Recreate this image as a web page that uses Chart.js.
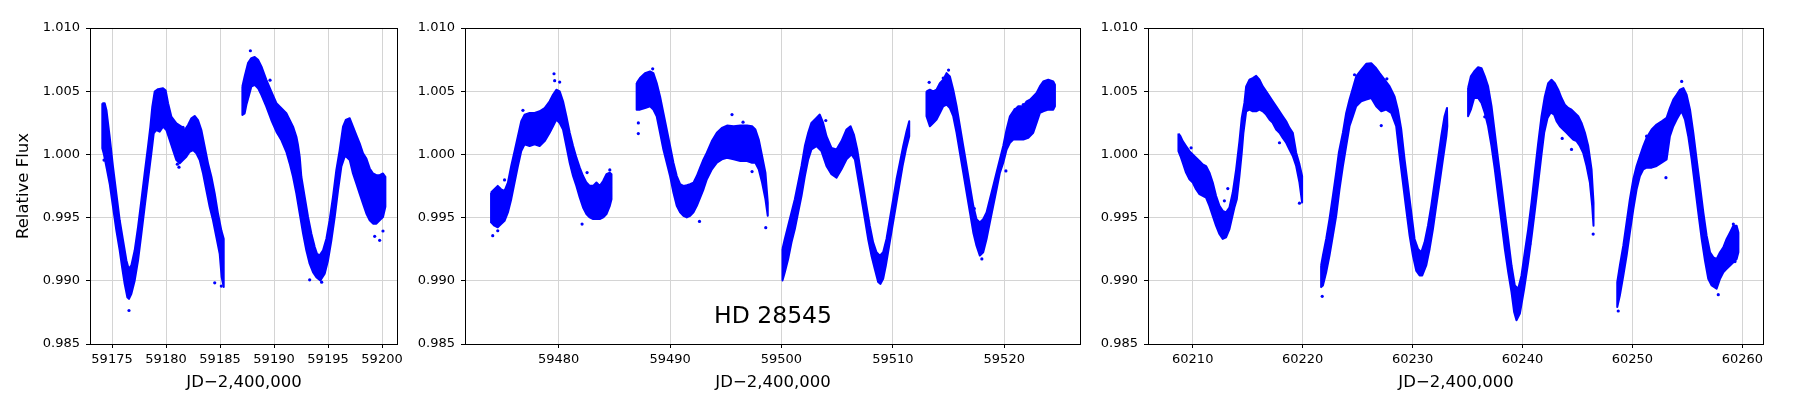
<!DOCTYPE html>
<html>
<head>
<meta charset="utf-8">
<script src="https://cdn.jsdelivr.net/npm/chart.js@4.4.0/dist/chart.umd.min.js"></script>
<style>
  html, body { margin: 0; padding: 0; background: #fff; }
  body { width: 1800px; height: 400px; position: relative; overflow: hidden; }
  canvas { position: absolute; top: 0; }
</style>
</head>
<body>
<canvas id="panel1"></canvas>
<canvas id="panel2"></canvas>
<canvas id="panel3"></canvas>
<script>
// Light curve: each observing stretch is kept as the upper and
// lower edge of the dense point cloud [JD-2400000, relative flux], plus stray points.

const fluxTicks = [0.985, 0.990, 0.995, 1.000, 1.005, 1.010];
const p1Ticks = [59175, 59180, 59185, 59190, 59195, 59200];
const p2Ticks = [59480, 59490, 59500, 59510, 59520];
const p3Ticks = [60210, 60220, 60230, 60240, 60250, 60260];

const xTitle = 'JD\u22122,400,000';
const yTitle = 'Relative Flux';
const starName = 'HD 28545';

// ---- panel 1 ----
const p1aUpper = [[59174.10,1.00405],[59174.32,1.00405],[59174.48,1.00352],[59174.78,1.00140],[59175.09,0.99902],[59175.40,0.99690],[59175.71,0.99479],[59176.02,0.99320],[59176.33,0.99161],[59176.54,0.99095],[59176.79,0.99122],[59177.10,0.99241],[59177.41,0.99426],[59177.72,0.99638],[59178.02,0.99849],[59178.33,1.00061],[59178.55,1.00220],[59178.73,1.00378],[59178.95,1.00497],[59179.26,1.00516],[59179.72,1.00524],[59179.97,1.00505],[59180.19,1.00405],[59180.49,1.00299],[59180.96,1.00246],[59181.42,1.00220],[59181.73,1.00193],[59182.04,1.00233],[59182.35,1.00286],[59182.65,1.00304],[59182.96,1.00272],[59183.27,1.00193],[59183.58,1.00061],[59183.89,0.99929],[59184.20,0.99823],[59184.51,0.99690],[59184.81,0.99532],[59185.12,0.99399],[59185.34,0.99333]];
const p1aLower = [[59174.10,1.00048],[59174.23,1.00008],[59174.48,0.99902],[59174.78,0.99770],[59175.09,0.99585],[59175.40,0.99399],[59175.71,0.99241],[59175.93,0.99108],[59176.17,0.98976],[59176.42,0.98870],[59176.57,0.98857],[59176.79,0.98897],[59177.10,0.99003],[59177.41,0.99161],[59177.72,0.99373],[59178.02,0.99585],[59178.33,0.99796],[59178.64,1.00008],[59178.86,1.00167],[59179.10,1.00193],[59179.41,1.00180],[59179.72,1.00220],[59180.03,1.00193],[59180.34,1.00114],[59180.65,1.00034],[59180.96,0.99955],[59181.27,0.99929],[59181.57,0.99955],[59181.88,0.99981],[59182.19,1.00021],[59182.50,1.00034],[59182.81,1.00008],[59183.12,0.99955],[59183.43,0.99849],[59183.73,0.99717],[59184.04,0.99585],[59184.35,0.99479],[59184.66,0.99347],[59184.97,0.99214],[59185.15,0.99029],[59185.34,0.98950]];
const p1bUpper = [[59187.07,1.00537],[59187.28,1.00616],[59187.59,1.00722],[59187.90,1.00762],[59188.21,1.00770],[59188.52,1.00749],[59188.83,1.00696],[59189.29,1.00590],[59189.75,1.00497],[59190.22,1.00405],[59190.68,1.00365],[59191.14,1.00325],[59191.45,1.00272],[59191.76,1.00220],[59192.07,1.00140],[59192.22,1.00074],[59192.38,0.99981],[59192.53,0.99823],[59192.84,0.99664],[59193.15,0.99505],[59193.46,0.99373],[59193.77,0.99267],[59193.98,0.99214],[59194.23,0.99201],[59194.54,0.99241],[59194.85,0.99333],[59195.15,0.99479],[59195.46,0.99664],[59195.77,0.99876],[59196.08,1.00034],[59196.39,1.00220],[59196.64,1.00272],[59197.01,1.00286],[59197.31,1.00220],[59197.62,1.00153],[59197.93,1.00087],[59198.24,1.00008],[59198.55,0.99968],[59198.86,0.99889],[59199.17,0.99849],[59199.48,0.99836],[59199.78,0.99836],[59200.09,0.99849],[59200.31,0.99823]];
const p1bLower = [[59187.07,1.00312],[59187.28,1.00325],[59187.44,1.00392],[59187.69,1.00471],[59187.90,1.00537],[59188.21,1.00550],[59188.52,1.00524],[59188.83,1.00471],[59189.29,1.00378],[59189.75,1.00272],[59190.22,1.00180],[59190.68,1.00114],[59191.14,1.00021],[59191.45,0.99929],[59191.76,0.99823],[59192.07,0.99690],[59192.38,0.99532],[59192.69,0.99373],[59192.99,0.99241],[59193.30,0.99135],[59193.61,0.99069],[59193.92,0.99029],[59194.29,0.99003],[59194.69,0.99056],[59195.00,0.99161],[59195.31,0.99320],[59195.62,0.99505],[59195.93,0.99717],[59196.23,0.99902],[59196.54,0.99981],[59196.70,0.99981],[59197.01,0.99955],[59197.31,0.99849],[59197.62,0.99770],[59197.93,0.99690],[59198.24,0.99611],[59198.55,0.99532],[59198.86,0.99479],[59199.17,0.99452],[59199.48,0.99452],[59199.78,0.99479],[59200.09,0.99505],[59200.31,0.99585]];
const p1Outliers = [[59174.26,0.99955],[59176.57,0.98765],[59187.81,1.00820],[59189.63,1.00587],[59181.05,0.99923],[59181.20,0.99899],[59184.51,0.98984],[59185.12,0.98958],[59193.30,0.99008],[59194.41,0.98989],[59199.78,0.99320],[59199.32,0.99352],[59200.09,0.99394],[59182.59,1.00280],[59181.57,1.00214]];

// ---- panel 2 ----
const p2aUpper = [[59473.93,0.99698],[59474.23,0.99724],[59474.53,0.99751],[59474.83,0.99724],[59475.14,0.99711],[59475.44,0.99777],[59475.74,0.99908],[59476.04,1.00026],[59476.34,1.00144],[59476.64,1.00262],[59476.94,1.00315],[59477.39,1.00328],[59477.84,1.00328],[59478.29,1.00341],[59478.74,1.00367],[59479.19,1.00420],[59479.49,1.00472],[59479.79,1.00512],[59480.09,1.00499],[59480.39,1.00420],[59480.69,1.00302],[59480.99,1.00171],[59481.29,1.00066],[59481.59,0.99974],[59481.89,0.99895],[59482.19,0.99829],[59482.49,0.99777],[59482.79,0.99751],[59483.09,0.99751],[59483.39,0.99777],[59483.69,0.99751],[59483.99,0.99790],[59484.29,0.99843],[59484.59,0.99856],[59484.74,0.99843]];
const p2aLower = [[59473.93,0.99462],[59474.23,0.99436],[59474.53,0.99423],[59474.83,0.99449],[59475.14,0.99475],[59475.44,0.99541],[59475.74,0.99646],[59476.04,0.99777],[59476.34,0.99908],[59476.64,1.00026],[59476.94,1.00079],[59477.39,1.00066],[59477.84,1.00079],[59478.29,1.00066],[59478.74,1.00105],[59479.19,1.00171],[59479.49,1.00223],[59479.79,1.00276],[59480.09,1.00249],[59480.39,1.00197],[59480.69,1.00066],[59480.99,0.99934],[59481.29,0.99829],[59481.59,0.99751],[59481.89,0.99659],[59482.19,0.99580],[59482.49,0.99528],[59482.79,0.99501],[59483.09,0.99488],[59483.39,0.99488],[59483.69,0.99488],[59483.99,0.99501],[59484.29,0.99528],[59484.59,0.99593],[59484.74,0.99646]];
const p2bUpper = [[59487.00,1.00564],[59487.30,1.00604],[59487.75,1.00643],[59488.20,1.00656],[59488.50,1.00643],[59488.80,1.00564],[59489.10,1.00459],[59489.40,1.00328],[59489.70,1.00197],[59490.00,1.00066],[59490.30,0.99934],[59490.60,0.99829],[59490.90,0.99764],[59491.20,0.99751],[59491.50,0.99756],[59491.80,0.99764],[59492.10,0.99777],[59492.40,0.99829],[59492.70,0.99895],[59493.00,0.99961],[59493.30,1.00013],[59493.75,1.00105],[59494.20,1.00171],[59494.65,1.00210],[59495.11,1.00228],[59495.71,1.00223],[59496.31,1.00228],[59496.91,1.00228],[59497.36,1.00223],[59497.66,1.00197],[59497.96,1.00118],[59498.26,0.99987],[59498.56,0.99856],[59498.77,0.99619]];
const p2bLower = [[59487.00,1.00354],[59487.30,1.00354],[59487.75,1.00367],[59488.20,1.00381],[59488.50,1.00354],[59488.80,1.00302],[59489.10,1.00171],[59489.40,1.00039],[59489.70,0.99934],[59490.00,0.99829],[59490.30,0.99698],[59490.60,0.99593],[59490.90,0.99541],[59491.20,0.99514],[59491.50,0.99501],[59491.80,0.99514],[59492.10,0.99541],[59492.40,0.99593],[59492.70,0.99659],[59493.00,0.99724],[59493.30,0.99803],[59493.75,0.99882],[59494.20,0.99934],[59494.65,0.99961],[59495.11,0.99974],[59495.71,0.99961],[59496.31,0.99948],[59496.91,0.99948],[59497.36,0.99934],[59497.66,0.99934],[59497.96,0.99882],[59498.26,0.99777],[59498.56,0.99646],[59498.77,0.99514]];
const p2cUpper = [[59500.09,0.99252],[59500.30,0.99331],[59500.60,0.99436],[59500.90,0.99541],[59501.20,0.99646],[59501.50,0.99777],[59501.80,0.99908],[59502.10,1.00066],[59502.40,1.00171],[59502.69,1.00249],[59503.14,1.00289],[59503.44,1.00315],[59503.74,1.00249],[59504.04,1.00144],[59504.49,1.00052],[59504.94,1.00039],[59505.39,1.00105],[59505.84,1.00197],[59506.20,1.00223],[59506.50,1.00157],[59506.80,1.00039],[59507.04,0.99908],[59507.34,0.99751],[59507.63,0.99593],[59507.93,0.99436],[59508.23,0.99304],[59508.53,0.99226],[59508.83,0.99199],[59509.13,0.99226],[59509.43,0.99331],[59509.73,0.99488],[59510.03,0.99646],[59510.33,0.99803],[59510.63,0.99934],[59510.93,1.00066],[59511.23,1.00184],[59511.47,1.00262]];
const p2cLower = [[59500.09,0.99003],[59500.30,0.99068],[59500.60,0.99173],[59500.90,0.99304],[59501.20,0.99409],[59501.50,0.99541],[59501.80,0.99672],[59502.10,0.99829],[59502.40,0.99961],[59502.69,1.00039],[59503.14,1.00066],[59503.59,1.00026],[59504.04,0.99908],[59504.49,0.99843],[59504.94,0.99816],[59505.39,0.99882],[59505.84,0.99961],[59506.29,1.00000],[59506.59,0.99961],[59506.89,0.99803],[59507.19,0.99646],[59507.49,0.99488],[59507.78,0.99331],[59508.08,0.99199],[59508.38,0.99094],[59508.68,0.98990],[59508.89,0.98976],[59509.13,0.99016],[59509.37,0.99121],[59509.67,0.99278],[59509.97,0.99436],[59510.27,0.99593],[59510.57,0.99751],[59510.87,0.99908],[59511.17,1.00039],[59511.47,1.00144]];
const p2dUpper = [[59513.02,1.00499],[59513.32,1.00512],[59513.62,1.00499],[59513.92,1.00512],[59514.22,1.00564],[59514.52,1.00591],[59514.82,1.00643],[59515.12,1.00617],[59515.42,1.00512],[59515.72,1.00381],[59516.02,1.00223],[59516.32,1.00066],[59516.62,0.99908],[59516.92,0.99751],[59517.22,0.99593],[59517.51,0.99488],[59517.81,0.99462],[59518.11,0.99488],[59518.41,0.99541],[59518.71,0.99646],[59519.01,0.99751],[59519.31,0.99856],[59519.61,0.99961],[59519.91,1.00066],[59520.21,1.00197],[59520.51,1.00302],[59520.81,1.00341],[59521.26,1.00381],[59521.71,1.00381],[59522.01,1.00420],[59522.31,1.00433],[59522.60,1.00459],[59522.90,1.00486],[59523.20,1.00538],[59523.50,1.00577],[59523.95,1.00591],[59524.40,1.00577],[59524.55,1.00551]];
const p2dLower = [[59513.02,1.00302],[59513.32,1.00223],[59513.62,1.00249],[59513.92,1.00276],[59514.22,1.00328],[59514.52,1.00381],[59514.82,1.00394],[59515.12,1.00367],[59515.42,1.00302],[59515.72,1.00171],[59516.02,1.00013],[59516.32,0.99856],[59516.62,0.99698],[59516.92,0.99541],[59517.22,0.99383],[59517.51,0.99278],[59517.81,0.99199],[59518.11,0.99226],[59518.41,0.99331],[59518.71,0.99462],[59519.01,0.99593],[59519.31,0.99724],[59519.61,0.99856],[59519.91,0.99934],[59520.21,1.00039],[59520.51,1.00092],[59520.81,1.00118],[59521.26,1.00118],[59521.71,1.00118],[59522.16,1.00131],[59522.60,1.00171],[59522.90,1.00249],[59523.20,1.00328],[59523.50,1.00341],[59523.95,1.00354],[59524.40,1.00354],[59524.55,1.00381]];
const p2Outliers = [[59479.58,1.00638],[59480.09,1.00572],[59479.64,1.00583],[59476.79,1.00349],[59475.14,0.99798],[59474.08,0.99357],[59474.53,0.99396],[59482.10,0.99449],[59482.55,0.99856],[59484.59,0.99877],[59487.15,1.00165],[59487.15,1.00249],[59488.44,1.00677],[59495.56,1.00315],[59496.55,1.00255],[59497.36,0.99864],[59498.59,0.99420],[59492.64,0.99470],[59515.00,1.00667],[59514.52,1.00604],[59513.26,1.00570],[59503.98,1.00268],[59517.31,0.99572],[59517.99,0.99173],[59520.96,1.00354],[59521.71,1.00394],[59520.15,0.99869]];

// ---- panel 3 ----
const p3aUpper = [[60208.70,1.00165],[60208.88,1.00144],[60209.09,1.00105],[60209.39,1.00066],[60209.70,1.00026],[60210.00,1.00000],[60210.30,0.99974],[60210.61,0.99948],[60210.91,0.99921],[60211.21,0.99908],[60211.52,0.99856],[60211.82,0.99777],[60212.12,0.99672],[60212.43,0.99593],[60212.73,0.99554],[60213.03,0.99541],[60213.34,0.99580],[60213.64,0.99698],[60213.95,0.99882],[60214.25,1.00105],[60214.46,1.00289],[60214.70,1.00407],[60214.86,1.00538],[60215.16,1.00591],[60215.46,1.00604],[60215.77,1.00622],[60216.07,1.00591],[60216.37,1.00538],[60216.68,1.00499],[60216.98,1.00459],[60217.28,1.00420],[60217.59,1.00381],[60217.89,1.00341],[60218.19,1.00302],[60218.50,1.00262],[60218.80,1.00210],[60219.10,1.00171],[60219.41,1.00013],[60219.71,0.99921],[60219.95,0.99829]];
const p3aLower = [[60208.70,1.00026],[60208.88,0.99987],[60209.09,0.99934],[60209.39,0.99856],[60209.70,0.99803],[60210.00,0.99777],[60210.30,0.99724],[60210.61,0.99685],[60210.91,0.99672],[60211.21,0.99659],[60211.52,0.99593],[60211.82,0.99514],[60212.12,0.99436],[60212.43,0.99370],[60212.73,0.99331],[60213.03,0.99344],[60213.34,0.99409],[60213.58,0.99501],[60213.79,0.99580],[60214.01,0.99646],[60214.25,0.99829],[60214.46,1.00013],[60214.61,1.00171],[60214.86,1.00341],[60215.16,1.00354],[60215.46,1.00341],[60215.77,1.00341],[60216.07,1.00354],[60216.37,1.00341],[60216.68,1.00315],[60216.98,1.00276],[60217.28,1.00249],[60217.59,1.00197],[60217.89,1.00171],[60218.19,1.00131],[60218.50,1.00092],[60218.80,1.00039],[60219.10,0.99987],[60219.41,0.99908],[60219.71,0.99777],[60219.95,0.99619]];
const p3bUpper = [[60221.68,0.99121],[60221.84,0.99199],[60222.14,0.99331],[60222.44,0.99488],[60222.75,0.99672],[60223.05,0.99856],[60223.29,1.00013],[60223.66,1.00171],[60223.96,1.00328],[60224.26,1.00433],[60224.57,1.00525],[60224.87,1.00617],[60225.33,1.00669],[60225.78,1.00717],[60226.24,1.00722],[60226.69,1.00682],[60227.00,1.00643],[60227.45,1.00591],[60227.91,1.00538],[60228.36,1.00459],[60228.66,1.00354],[60228.97,1.00197],[60229.27,0.99961],[60229.58,0.99751],[60229.88,0.99541],[60230.18,0.99331],[60230.49,0.99252],[60230.79,0.99226],[60231.09,0.99304],[60231.40,0.99436],[60231.70,0.99593],[60232.00,0.99777],[60232.31,0.99961],[60232.61,1.00144],[60232.91,1.00302],[60233.13,1.00367]];
const p3bLower = [[60221.68,0.98950],[60221.84,0.98963],[60222.14,0.99068],[60222.44,0.99199],[60222.75,0.99357],[60223.05,0.99514],[60223.35,0.99724],[60223.66,0.99908],[60223.96,1.00066],[60224.26,1.00223],[60224.57,1.00302],[60224.87,1.00381],[60225.33,1.00420],[60225.78,1.00433],[60226.24,1.00446],[60226.69,1.00381],[60227.15,1.00341],[60227.60,1.00354],[60228.06,1.00328],[60228.51,1.00223],[60228.82,0.99987],[60229.12,0.99777],[60229.42,0.99567],[60229.73,0.99357],[60230.03,0.99199],[60230.33,0.99081],[60230.64,0.99042],[60230.88,0.99042],[60231.24,0.99121],[60231.55,0.99252],[60231.85,0.99409],[60232.15,0.99593],[60232.46,0.99777],[60232.76,0.99961],[60233.07,1.00144],[60233.16,1.00223]];
const p3cUpper = [[60235.05,1.00525],[60235.30,1.00617],[60235.60,1.00656],[60235.96,1.00690],[60236.27,1.00682],[60236.57,1.00617],[60236.87,1.00538],[60237.18,1.00381],[60237.48,1.00171],[60237.78,0.99961],[60238.09,0.99751],[60238.39,0.99541],[60238.70,0.99331],[60239.00,0.99121],[60239.30,0.98963],[60239.61,0.98937],[60239.91,0.99042],[60240.21,0.99226],[60240.52,0.99409],[60240.82,0.99619],[60241.12,0.99856],[60241.43,1.00092],[60241.73,1.00302],[60242.03,1.00459],[60242.34,1.00564],[60242.64,1.00591],[60242.94,1.00564],[60243.25,1.00512],[60243.55,1.00446],[60243.85,1.00394],[60244.16,1.00367],[60244.46,1.00354],[60244.76,1.00328],[60245.07,1.00302],[60245.37,1.00249],[60245.68,1.00171],[60245.98,1.00066],[60246.28,0.99882],[60246.46,0.99619]];
const p3cLower = [[60235.05,1.00302],[60235.30,1.00354],[60235.60,1.00446],[60235.96,1.00446],[60236.27,1.00407],[60236.57,1.00328],[60236.87,1.00223],[60237.18,1.00066],[60237.48,0.99882],[60237.78,0.99672],[60238.09,0.99462],[60238.39,0.99252],[60238.70,0.99068],[60239.00,0.98911],[60239.24,0.98753],[60239.45,0.98688],[60239.76,0.98740],[60240.15,0.98937],[60240.52,0.99147],[60240.82,0.99344],[60241.12,0.99554],[60241.43,0.99777],[60241.73,1.00000],[60241.97,1.00171],[60242.28,1.00289],[60242.58,1.00333],[60242.88,1.00315],[60243.10,1.00262],[60243.40,1.00223],[60243.70,1.00197],[60244.01,1.00171],[60244.31,1.00144],[60244.61,1.00118],[60244.92,1.00105],[60245.22,1.00066],[60245.52,1.00013],[60245.83,0.99908],[60246.13,0.99777],[60246.34,0.99593],[60246.46,0.99436]];
const p3dUpper = [[60248.62,0.98990],[60248.86,0.99121],[60249.17,0.99278],[60249.47,0.99462],[60249.77,0.99646],[60250.08,0.99803],[60250.38,0.99908],[60250.68,0.99987],[60250.99,1.00066],[60251.29,1.00131],[60251.75,1.00197],[60252.20,1.00236],[60252.66,1.00262],[60253.11,1.00289],[60253.41,1.00367],[60253.72,1.00433],[60254.02,1.00472],[60254.33,1.00512],[60254.63,1.00525],[60254.93,1.00472],[60255.24,1.00354],[60255.54,1.00171],[60255.84,0.99961],[60256.15,0.99751],[60256.45,0.99541],[60256.75,0.99357],[60257.06,0.99226],[60257.36,0.99186],[60257.66,0.99173],[60257.97,0.99226],[60258.27,0.99265],[60258.57,0.99331],[60258.88,0.99383],[60259.18,0.99436],[60259.48,0.99436],[60259.64,0.99383]];
const p3dLower = [[60248.62,0.98793],[60248.86,0.98885],[60249.17,0.99042],[60249.47,0.99199],[60249.77,0.99383],[60250.08,0.99567],[60250.38,0.99724],[60250.68,0.99829],[60250.99,0.99882],[60251.29,0.99895],[60251.75,0.99895],[60252.20,0.99908],[60252.66,0.99934],[60253.11,0.99961],[60253.41,1.00144],[60253.72,1.00223],[60254.02,1.00276],[60254.33,1.00323],[60254.48,1.00341],[60254.78,1.00276],[60255.08,1.00144],[60255.39,0.99961],[60255.69,0.99751],[60255.99,0.99541],[60256.30,0.99331],[60256.60,0.99160],[60256.90,0.99016],[60257.21,0.98963],[60257.66,0.98937],[60257.97,0.99016],[60258.27,0.99068],[60258.57,0.99094],[60258.88,0.99121],[60259.18,0.99147],[60259.48,0.99173],[60259.64,0.99226]];
const p3Outliers = [[60221.78,0.98877],[60227.15,1.00228],[60213.19,0.99730],[60212.88,0.99633],[60209.85,1.00052],[60219.71,0.99614],[60217.89,1.00092],[60224.72,1.00630],[60227.66,1.00598],[60246.43,0.99370],[60248.71,0.98761],[60257.81,0.98890],[60259.33,0.99152],[60259.18,0.99449],[60254.48,1.00577],[60244.46,1.00039],[60243.61,1.00126],[60253.05,0.99816],[60251.29,1.00144],[60236.57,1.00297],[60240.67,0.99291]];

const BLUE = '#0000ff';
const GRID = '#d4d4d4';
const FAMILY = "'DejaVu Sans', sans-serif";

// closed outline: along the top edge, back along the bottom edge
function band(upper, lower) {
    const pts = upper.concat(lower.slice().reverse(), [upper[0]]);
    return {
        data: pts.map(p => ({ x: p[0], y: p[1] })),
        borderColor: BLUE,
        backgroundColor: BLUE,
        borderWidth: 2,
        borderJoinStyle: 'round',
        pointRadius: 0,
        tension: 0,
        fill: 'shape'
    };
}

function dots(points) {
    return {
        data: points.map(p => ({ x: p[0], y: p[1] })),
        showLine: false,
        pointRadius: 1.6,
        pointBorderWidth: 0,
        pointBackgroundColor: BLUE,
        borderColor: BLUE,
        backgroundColor: BLUE
    };
}

const frame = {
    id: 'frame',
    afterDraw(chart) {
        const { ctx, chartArea: a } = chart;
        ctx.save();
        ctx.strokeStyle = '#000';
        ctx.lineWidth = 1;
        ctx.strokeRect(Math.round(a.left) + 0.5, Math.round(a.top) + 0.5,
            Math.round(a.right - a.left) - 1, Math.round(a.bottom - a.top));
        ctx.restore();
    }
};

const nameLabel = {
    id: 'nameLabel',
    afterDatasetsDraw(chart, args, opts) {
        if (!opts.text) return;
        const { ctx, chartArea: a } = chart;
        ctx.save();
        ctx.font = '23.5px ' + FAMILY;
        ctx.fillStyle = '#000';
        ctx.textAlign = 'center';
        ctx.textBaseline = 'alphabetic';
        ctx.fillText(opts.text, (a.left + a.right) / 2, a.bottom - 21.5);
        ctx.restore();
    }
};

function makePanel(id, cfg) {
    const padR = 30;
    const el = document.getElementById(id);
    el.width = cfg.yW + cfg.plotW + padR;
    el.height = 400;
    el.style.left = (cfg.plotLeft - cfg.yW) + 'px';

    const datasets = cfg.bands.map(b => band(b[0], b[1]));
    datasets.push(dots(cfg.outliers));

    new Chart(el, {
        type: 'line',
        data: { datasets: datasets },
        options: {
            responsive: false,
            animation: false,
            layout: { padding: { top: 28, right: padR, bottom: 0, left: 0 } },
            plugins: {
                legend: { display: false },
                tooltip: { enabled: false },
                nameLabel: { text: cfg.note || '' }
            },
            scales: {
                x: {
                    type: 'linear',
                    min: cfg.xMin,
                    max: cfg.xMax,
                    afterBuildTicks: s => { s.ticks = cfg.xTicks.map(v => ({ value: v })); },
                    afterFit: s => { s.height = 56; },
                    ticks: {
                        callback: v => String(v),
                        font: { family: FAMILY, size: 13 },
                        color: '#000',
                        padding: 4,
                        maxRotation: 0,
                        autoSkip: false
                    },
                    grid: { color: GRID, lineWidth: 1, tickColor: '#000', tickLength: 4, tickWidth: 1 },
                    border: { display: false },
                    title: {
                        display: true,
                        text: xTitle,
                        color: '#000',
                        font: { family: FAMILY, size: 16.5 },
                        padding: { top: 0, bottom: 7 }
                    }
                },
                y: {
                    type: 'linear',
                    min: 0.985,
                    max: 1.010,
                    afterBuildTicks: s => { s.ticks = fluxTicks.map(v => ({ value: v })); },
                    afterFit: s => { s.width = cfg.yW; },
                    ticks: {
                        callback: v => v.toFixed(3),
                        font: { family: FAMILY, size: 13 },
                        color: '#000',
                        padding: 6
                    },
                    grid: { color: GRID, lineWidth: 1, tickColor: '#000', tickLength: 4, tickWidth: 1 },
                    border: { display: false },
                    title: {
                        display: !!cfg.yTitle,
                        text: cfg.yTitle || '',
                        color: '#000',
                        font: { family: FAMILY, size: 16.5 },
                        padding: { top: 14, bottom: 0 }
                    }
                }
            }
        },
        plugins: [frame, nameLabel]
    });
}

makePanel('panel1', {
    plotLeft: 90, plotW: 308, yW: 90,
    xMin: 59172.96, xMax: 59201.48, xTicks: p1Ticks,
    bands: [[p1aUpper, p1aLower], [p1bUpper, p1bLower]],
    outliers: p1Outliers,
    yTitle: yTitle
});

makePanel('panel2', {
    plotLeft: 465, plotW: 616, yW: 60,
    xMin: 59471.59, xMax: 59526.89, xTicks: p2Ticks,
    bands: [[p2aUpper, p2aLower], [p2bUpper, p2bLower], [p2cUpper, p2cLower], [p2dUpper, p2dLower]],
    outliers: p2Outliers,
    note: starName
});

makePanel('panel3', {
    plotLeft: 1148, plotW: 616, yW: 60,
    xMin: 60205.93, xMax: 60261.97, xTicks: p3Ticks,
    bands: [[p3aUpper, p3aLower], [p3bUpper, p3bLower], [p3cUpper, p3cLower], [p3dUpper, p3dLower]],
    outliers: p3Outliers
});
</script>
</body>
</html>
